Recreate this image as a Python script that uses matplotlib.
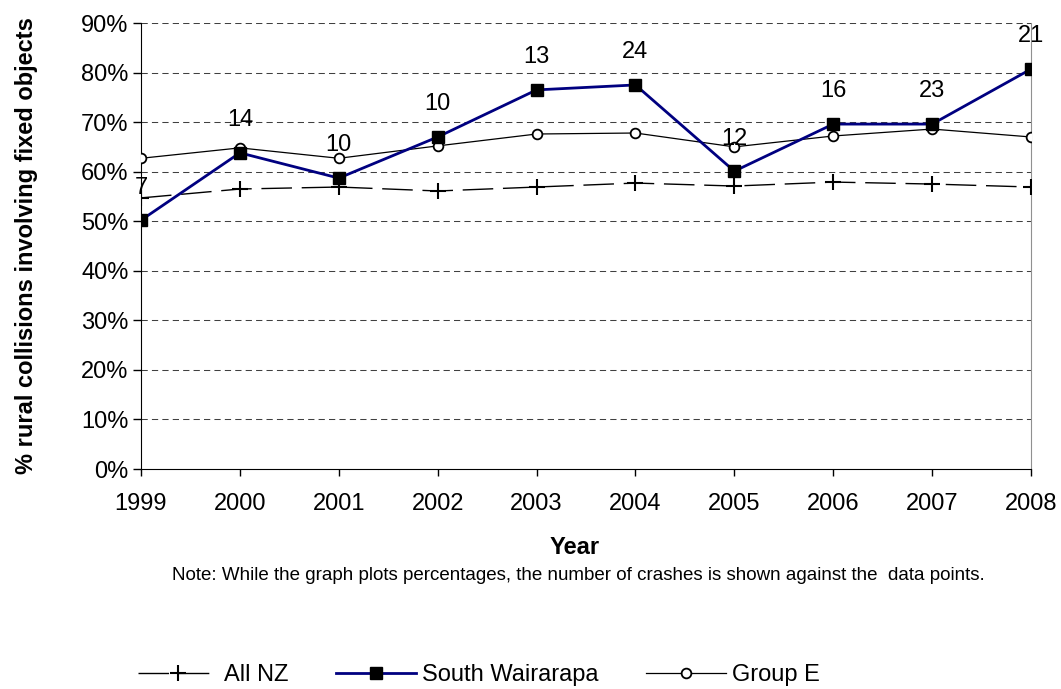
import matplotlib
matplotlib.use("Agg")
import matplotlib.pyplot as plt
from matplotlib.ticker import PercentFormatter

years = [1999, 2000, 2001, 2002, 2003, 2004, 2005, 2006, 2007, 2008]
all_nz = [54.7, 56.5, 56.9, 56.1, 56.9, 57.7, 57.1, 57.9, 57.5, 56.9]
south_wairarapa = [50.2, 63.8, 58.7, 67.0, 76.5, 77.5, 60.1, 69.6, 69.6, 80.7]
group_e = [62.7, 64.8, 62.7, 65.2, 67.6, 67.8, 65.0, 67.2, 68.6, 67.0]
crash_counts = [7, 14, 10, 10, 13, 24, 12, 16, 23, 21]

plt.rcParams['font.family'] = ['Liberation Sans', 'DejaVu Sans']

fig = plt.figure(figsize=(10.61, 6.89), dpi=100)
ax = fig.add_axes([141/1061, 1-469/689, (1031-141)/1061, (469-23)/689])

ax.plot(years, all_nz, color='black', lw=1.0, marker='+', ms=12, mew=1.5,
        dashes=(22, 7), label='All NZ', zorder=3)
ax.plot(years, group_e, color='black', lw=0.9, marker='o', ms=7, mew=1.3,
        mfc='white', mec='black', label='Group E', zorder=4)
ax.plot(years, south_wairarapa, color='#000080', lw=2.0, marker='s', ms=8.5,
        mfc='black', mec='black', label='South Wairarapa', zorder=5)

for x, y, n in zip(years, south_wairarapa, crash_counts):
    ax.annotate(str(n), (x, y), xytext=(0, 23.5), textcoords='offset points',
                ha='center', va='center', fontsize=17, zorder=6,
                annotation_clip=False)

ax.set_xlim(1999, 2008)
ax.set_ylim(0, 90)
ax.set_yticks(range(0, 91, 10))
ax.yaxis.set_major_formatter(PercentFormatter(decimals=0))
ax.set_xticks(years)
ax.tick_params(axis='both', labelsize=17, direction='out', width=1)
ax.tick_params(axis='y', length=6, pad=3)
ax.tick_params(axis='x', length=5, pad=12)

for yv in range(10, 91, 10):
    ax.axhline(yv, color='#404040', lw=0.75, dashes=(6, 4), zorder=1)

ax.spines['top'].set_visible(False)
ax.spines['right'].set_color('#909090')
ax.spines['left'].set_color('black')
ax.spines['bottom'].set_color('black')

ax.set_ylabel('% rural collisions involving fixed objects', fontsize=17,
              fontweight='bold')
ax.yaxis.set_label_coords(-(141-38)/890, 0.5)
ax.set_xlabel('Year', fontsize=17, fontweight='bold')
ax.xaxis.label.set_va('center')
ax.xaxis.set_label_coords((575-141)/890, -(547-469)/446)

fig.text(578/1061, 1-576/689,
         'Note: While the graph plots percentages, the number of crashes is shown against the  data points.',
         ha='center', va='center', fontsize=13.5)

handles, labels = ax.get_legend_handles_labels()
order = [0, 2, 1]
fig.legend([handles[i] for i in order], [labels[i] for i in order],
           loc='center', bbox_to_anchor=(479/1061, 1-675/689), ncol=3,
           frameon=False, fontsize=17, handlelength=3.4, columnspacing=2.0,
           handletextpad=0.25, borderpad=0)

fig.savefig('out.png', dpi=100)
